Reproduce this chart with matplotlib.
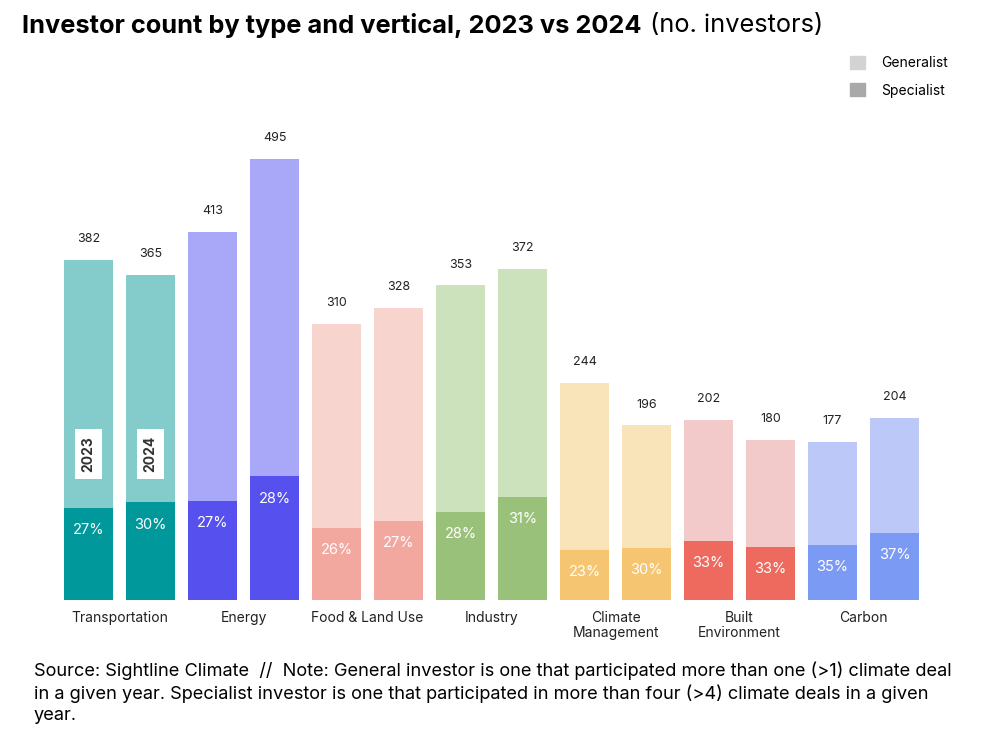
import numpy as np
import matplotlib
matplotlib.use("Agg")
import matplotlib.pyplot as plt
from matplotlib.patches import Patch

plt.rcParams['font.family'] = ['Inter', 'DejaVu Sans']

verticals = ['Transportation', 'Energy', 'Food & Land Use', 'Industry',
             'Climate\nManagement', 'Built\nEnvironment', 'Carbon']
totals_2023 = [382, 413, 310, 353, 244, 202, 177]
totals_2024 = [365, 495, 328, 372, 196, 180, 204]
spec_pct_2023 = [27, 27, 26, 28, 23, 33, 35]
spec_pct_2024 = [30, 28, 27, 31, 30, 33, 37]
years = ['2023', '2024']

light_cols = ['#84CBCC', '#A9A8F8', '#F8D4CF', '#CBE2BD', '#F9E3B9', '#F2CACA', '#BCC8F8']
dark_cols = ['#00989A', '#5650EE', '#F3A89F', '#9AC17A', '#F5C571', '#EE6A5E', '#7B9AF3']

fig = plt.figure(figsize=(10, 7.42), dpi=100)
ax = fig.add_axes([0.0513, 1 - 600 / 742, 0.8804, 499 / 742])

width = 0.79
for i in range(len(verticals)):
    for j, (tot, pct) in enumerate([(totals_2023[i], spec_pct_2023[i]),
                                    (totals_2024[i], spec_pct_2024[i])]):
        x = 2 * i + j
        spec = tot * pct / 100
        ax.bar(x, tot, width=width, color=light_cols[i], zorder=2)
        ax.bar(x, spec, width=width, color=dark_cols[i], zorder=3)
        ax.annotate(str(tot), (x, tot), xytext=(0, 15), textcoords='offset points',
                    ha='center', va='center', fontsize=9, color='#222222')
        ax.annotate(f'{pct}%', (x, spec), xytext=(0, -16), textcoords='offset points',
                    ha='center', va='center', fontsize=10.5, color='white', zorder=4)
        if i == 0:
            ax.text(x, 164, years[j], rotation=90, ha='center', va='center',
                    fontsize=10, fontweight='bold', color='#333333', zorder=5,
                    bbox=dict(boxstyle='square,pad=0.5', fc='white', ec='none'))

ax.set_xlim(-0.6, 13.6)
ax.set_ylim(0, 560)
ax.set_xticks([2 * i + 0.5 for i in range(len(verticals))])
ax.set_xticklabels(verticals, fontsize=10, color='#222222', linespacing=1.1)
ax.tick_params(axis='x', length=0, pad=8)
ax.set_yticks([])
for s in ax.spines.values():
    s.set_visible(False)

handles = [Patch(color='#D3D3D3', label='Generalist'),
           Patch(color='#A9A9A9', label='Specialist')]
fig.legend(handles=handles, loc='upper left', bbox_to_anchor=(0.837, 0.942),
           frameon=False, fontsize=10, handlelength=1.1, handleheight=1.1,
           labelspacing=0.95, handletextpad=1.15)

t1 = fig.text(0.022, 0.966, 'Investor count by type and vertical, 2023 vs 2024',
              fontsize=18.3, fontweight='bold', va='center', color='black')
fig.canvas.draw()
bb = t1.get_window_extent()
fig.text(bb.x1 / fig.bbox.width + 0.009, 0.966, '(no. investors)', fontsize=18.3,
         va='center', color='black')

fig.text(0.034, 0.108,
         'Source: Sightline Climate  //  Note: General investor is one that participated more than one (>1) climate deal\n'
         'in a given year. Specialist investor is one that participated in more than four (>4) climate deals in a given\n'
         'year.', fontsize=13.1, va='top', linespacing=1.28, color='black')

fig.savefig('out.png', dpi=100)
